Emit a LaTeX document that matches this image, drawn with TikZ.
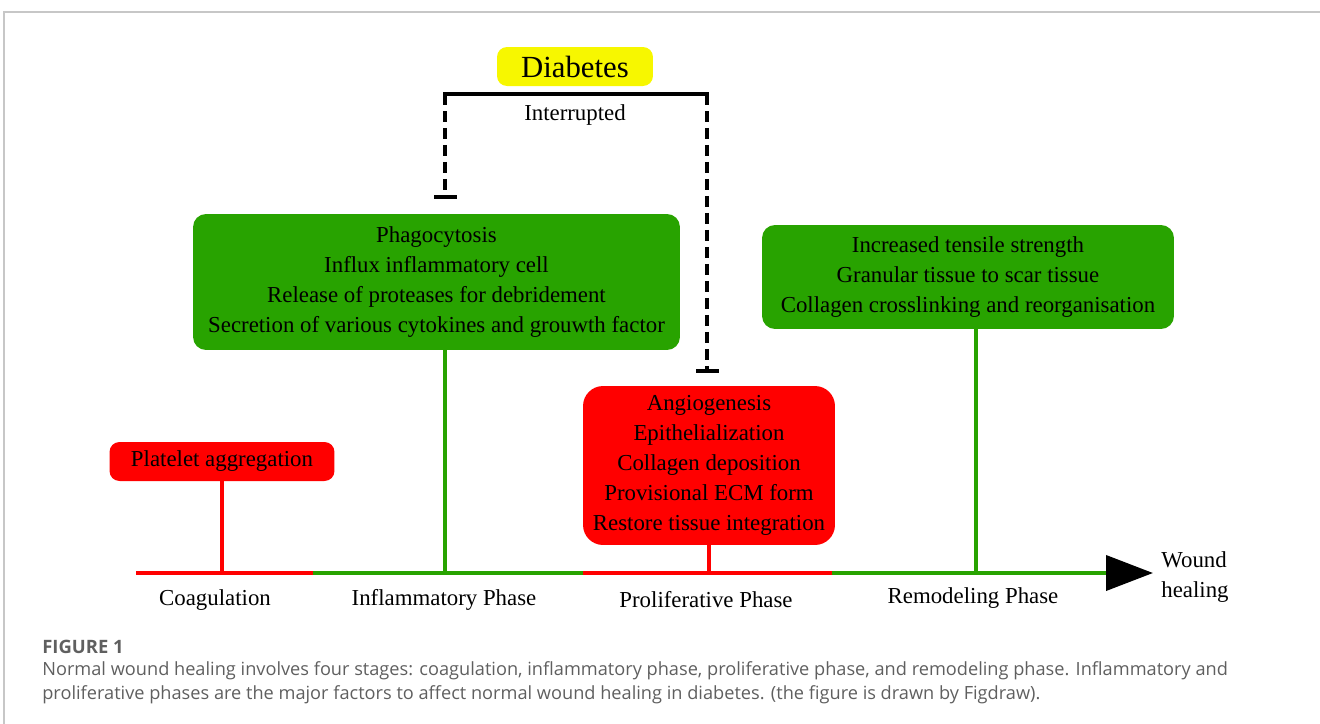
\documentclass[tikz,border=0pt]{standalone}
\usepackage{fontspec}
\setmainfont{Liberation Serif}
\newfontfamily\capfont{Open Sans}
\usetikzlibrary{arrows.meta}
\definecolor{phasegreen}{RGB}{40,163,0}
\definecolor{phasered}{RGB}{255,0,0}
\definecolor{diayellow}{RGB}{247,247,0}
\definecolor{capgray}{RGB}{95,95,95}

\begin{document}
\begin{tikzpicture}[
        x=0.02cm, y=-0.02cm,
        every node/.style={font=\fontsize{13}{17}\selectfont, align=center, inner sep=0pt},
        greenbox/.style={fill=phasegreen, rounded corners=0.26cm},
        redbox/.style={fill=phasered, rounded corners=0.26cm},
        greenline/.style={draw=phasegreen, line width=2.2pt},
        redline/.style={draw=phasered, line width=2.2pt},
        stalk/.style={line width=1.8pt},
        block/.style={line width=2.2pt, dash pattern=on 0.22cm off 0.12cm,
            -{Bar[width=0.46cm, line width=2.2pt]}}
        ]
        \useasboundingbox (0,0) rectangle (1320,724);
        % Frame
        \draw[black!22, line width=1pt] (4,724) -- (4,12) -- (1320,12);

        % Define the nodes
        \node[fill=diayellow, rounded corners=0.2cm, minimum width=3.12cm, minimum height=0.78cm,
            font=\fontsize{17.5}{20}\selectfont] (diab) at (575,66.5) {Diabetes};
        \node (intr) at (575,115) {Interrupted};
        \node[greenbox, minimum width=9.74cm, minimum height=2.72cm] (inflam) at (436.5,282)
            {Phagocytosis\\Influx inflammatory cell\\Release of proteases for debridement\\Secretion of various cytokines and grouwth factor};
        \node[greenbox, minimum width=8.24cm, minimum height=2.08cm] (remod) at (968,277)
            {Increased tensile strength\\Granular tissue to scar tissue\\Collagen crosslinking and reorganisation};
        \node[redbox, rounded corners=0.4cm, minimum width=5.04cm, minimum height=3.18cm] (prolif) at (709,465.5)
            {Angiogenesis\\Epithelialization\\Collagen deposition\\Provisional ECM form\\Restore tissue integration};
        \node[redbox, rounded corners=0.2cm, minimum width=4.5cm, minimum height=0.78cm] (plat) at (222,461.5)
            {Platelet aggregation};

        % Timeline
        \coordinate (t0) at (136,573);
        \coordinate (t1) at (313,573);
        \coordinate (t2) at (583,573);
        \coordinate (t3) at (832,573);
        \coordinate (tip) at (1153,573);
        \coordinate (s1) at (445,573);
        \coordinate (s3) at (976,573);
        \draw[redline] (t0) -- (t1);
        \draw[greenline] (t1) -- (t2);
        \draw[redline] (t2) -- (t3);
        \draw[greenline, -{Triangle[length=0.94cm, width=0.7cm, color=black]}] (t3) -- (tip);

        % Draw the stalks
        \draw[redline, stalk] (plat.south) -- (plat.south |- t0);
        \draw[greenline, stalk] (s1 |- inflam.south) -- (s1);
        \draw[redline, stalk] (prolif.south) -- (prolif.south |- t0);
        \draw[greenline, stalk] (s3 |- remod.south) -- (s3);

        % Diabetes interrupts two phases
        \coordinate (bl) at (445,94);
        \coordinate (br) at (707,94);
        \coordinate (e1) at (445,199);
        \coordinate (e2) at (707,373);
        \draw[line width=2.2pt, line cap=rect] (bl) -- (br);
        \draw[block] (bl) -- (e1);
        \draw[block] (br) -- (e2);

        % Phase labels
        \node (coag) at (215,600) {Coagulation};
        \node (linflam) at (444,600) {Inflammatory Phase};
        \node (lprolif) at (706,600) {Proliferative Phase};
        \node (lremod) at (973,598) {Remodeling Phase};
        \node[anchor=west, align=left] (wound) at (1161,577) {Wound\\healing};

        % Caption
        \node[anchor=west, text=capgray, font=\capfont\bfseries\fontsize{10.5}{13}\selectfont] (fig) at (42,647) {FIGURE 1};
        \node[anchor=north west, align=left, text=capgray, font=\capfont\fontsize{10.35}{13.6}\selectfont] (cap) at (42,661)
            {Normal wound healing involves four stages: coagulation, inflammatory phase, proliferative phase, and remodeling phase. Inflammatory and\\
             proliferative phases are the major factors to affect normal wound healing in diabetes. (the figure is drawn by Figdraw).};
    \end{tikzpicture}
\end{document}
